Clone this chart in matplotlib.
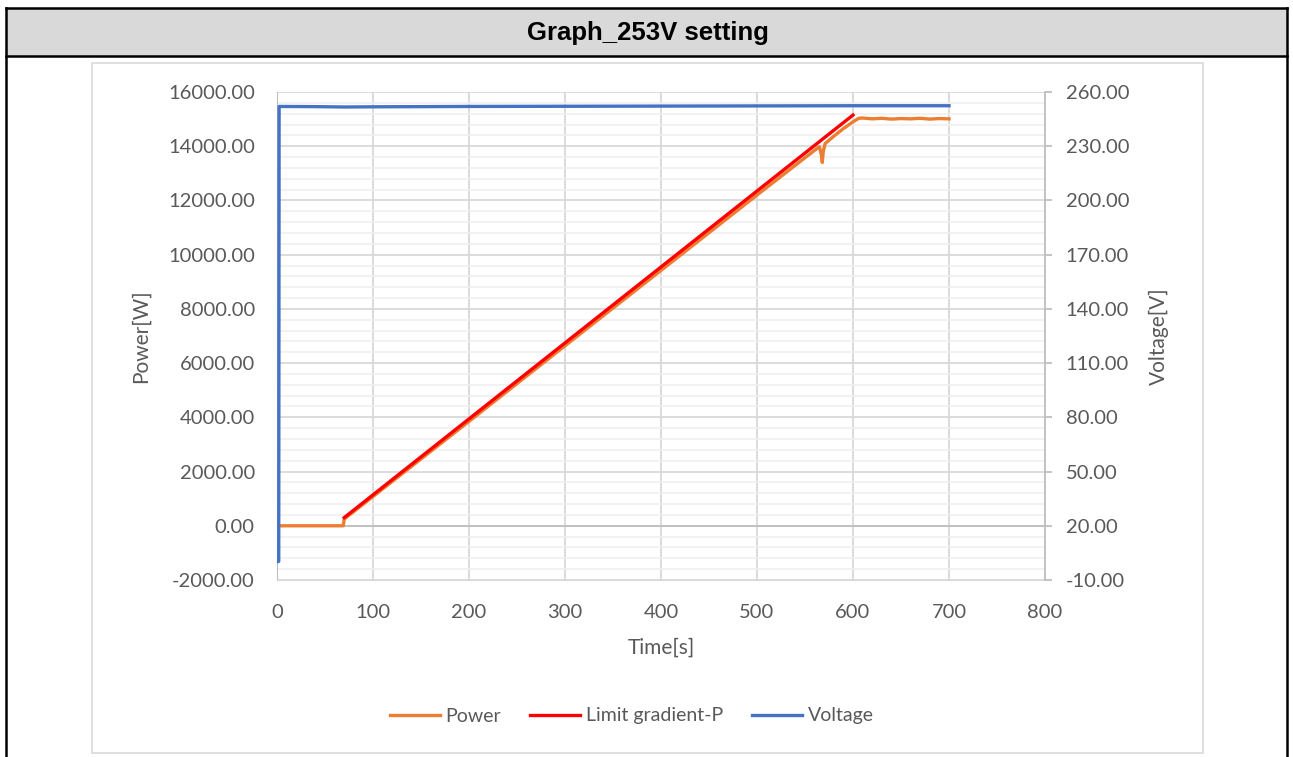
import matplotlib
matplotlib.use("Agg")
import matplotlib.pyplot as plt
from matplotlib.patches import Rectangle
from matplotlib.lines import Line2D
from matplotlib.ticker import MultipleLocator, FixedLocator, FormatStrFormatter

# data
time_p = [0, 69, 70, 100, 200, 300, 400, 500, 560, 565, 567, 568, 569, 571,
          580, 590, 600, 606, 610, 620, 630, 640, 650, 660, 670, 680, 690, 700]
power = [0, 0, 250, 1080, 3850, 6640, 9420, 12200, 13850, 13980, 13700, 13400,
         13800, 14100, 14370, 14650, 14900, 15030, 15040, 15010, 15030, 15000,
         15020, 15010, 15030, 15000, 15020, 15010]

time_l = [70, 600]
limit = [300, 15150]

time_v = [0, 1.8, 2.2, 40, 70, 100, 200, 300, 400, 500, 600, 700]
voltage = [0.2, 0.3, 252.0, 251.9, 251.7, 251.8, 252.0, 252.1, 252.2, 252.3, 252.4, 252.4]

volt_ticks = [-10, 20, 50, 80, 110, 140, 170, 200, 230, 260]

title = "Graph_253V setting"

W, H = 1293, 757
fig = plt.figure(figsize=(W / 100, H / 100), dpi=100)
plt.rcParams['font.family'] = ['Lato', 'DejaVu Sans']
txtc = '#595959'
fts = 14.5

def fx(px):
    return px / W

def fy(py):
    return 1 - py / H

# table frame with header cell
fig.patches.append(Rectangle((fx(6), fy(56)), fx(1281), 48 / H, transform=fig.transFigure,
                             facecolor='#d9d9d9', edgecolor='none', zorder=0))
for (x0, y0, x1, y1) in [(6, 8, 1287, 8), (6, 56, 1287, 56), (6, 8, 6, 757), (1287, 8, 1287, 757)]:
    fig.lines.append(Line2D([fx(x0), fx(x1)], [fy(y0), fy(y1)], transform=fig.transFigure,
                            color='black', lw=1.8))
fig.text(fx(648), fy(33), title, ha='center', va='center', fontsize=18.5,
         fontweight='bold', family='Liberation Sans', color='black')

# chart area box
fig.patches.append(Rectangle((fx(92), fy(753)), fx(1203 - 92), (753 - 63) / H,
                             transform=fig.transFigure, facecolor='none',
                             edgecolor='#d9d9d9', lw=1.2))

ax = fig.add_axes([fx(277), fy(580), fx(1045 - 277), (580 - 92) / H])
ax2 = ax.twinx()

ax.set_xlim(0, 800)
ax.set_ylim(-2000, 16000)
ax2.set_ylim(-10, 260)

ax.xaxis.set_major_locator(MultipleLocator(100))
ax.yaxis.set_major_locator(MultipleLocator(2000))
ax.yaxis.set_minor_locator(MultipleLocator(400))
ax.yaxis.set_major_formatter(FormatStrFormatter('%.2f'))
ax2.yaxis.set_major_locator(FixedLocator(volt_ticks))
ax2.yaxis.set_major_formatter(FormatStrFormatter('%.2f'))

ax.grid(which='minor', axis='y', color='#f0f0f0', lw=1.2)
ax.grid(which='major', axis='both', color='#d9d9d9', lw=1.3)
ax.set_axisbelow(True)
ax.axhline(0, color='#bfbfbf', lw=1.3, zorder=1)

for a in (ax, ax2):
    for s in a.spines.values():
        s.set_visible(False)
ax.spines['left'].set_visible(True)
ax.spines['left'].set_color('#bfbfbf')
ax.spines['bottom'].set_visible(True)
ax.spines['bottom'].set_color('#d9d9d9')
ax2.spines['right'].set_visible(True)
ax2.spines['right'].set_color('#bfbfbf')
ax2.spines['right'].set_linewidth(1.3)

ax.tick_params(axis='x', length=0, pad=17, labelsize=fts, labelcolor=txtc)
ax.tick_params(axis='y', which='both', length=0, pad=16, labelsize=fts, labelcolor=txtc)
ax2.tick_params(axis='y', length=5, width=1.3, color='#bfbfbf', pad=10, labelsize=fts, labelcolor=txtc)

l1, = ax.plot(time_p, power, color='#ED7D31', lw=2.4, label='Power', zorder=3)
l2, = ax.plot(time_l, limit, color='#FF0000', lw=2.4, label='Limit gradient-P', zorder=4)
l3, = ax2.plot(time_v, voltage, color='#4472C4', lw=2.4, label='Voltage', zorder=5)

ax.set_xlabel('Time[s]', fontsize=fts + 0.5, color=txtc, labelpad=12)
ax.set_ylabel('Power[W]', fontsize=fts + 0.5, color=txtc, labelpad=12)
ax2.set_ylabel('Voltage[V]', fontsize=fts + 0.5, color=txtc, labelpad=14)

leg = fig.legend(handles=[l1, l2, l3], loc='center', bbox_to_anchor=(fx(632), fy(716)),
                 ncol=3, frameon=False, fontsize=14, handlelength=2.55, handletextpad=0.3,
                 columnspacing=1.5)
for t in leg.get_texts():
    t.set_color(txtc)

fig.savefig('out.png', dpi=100)
